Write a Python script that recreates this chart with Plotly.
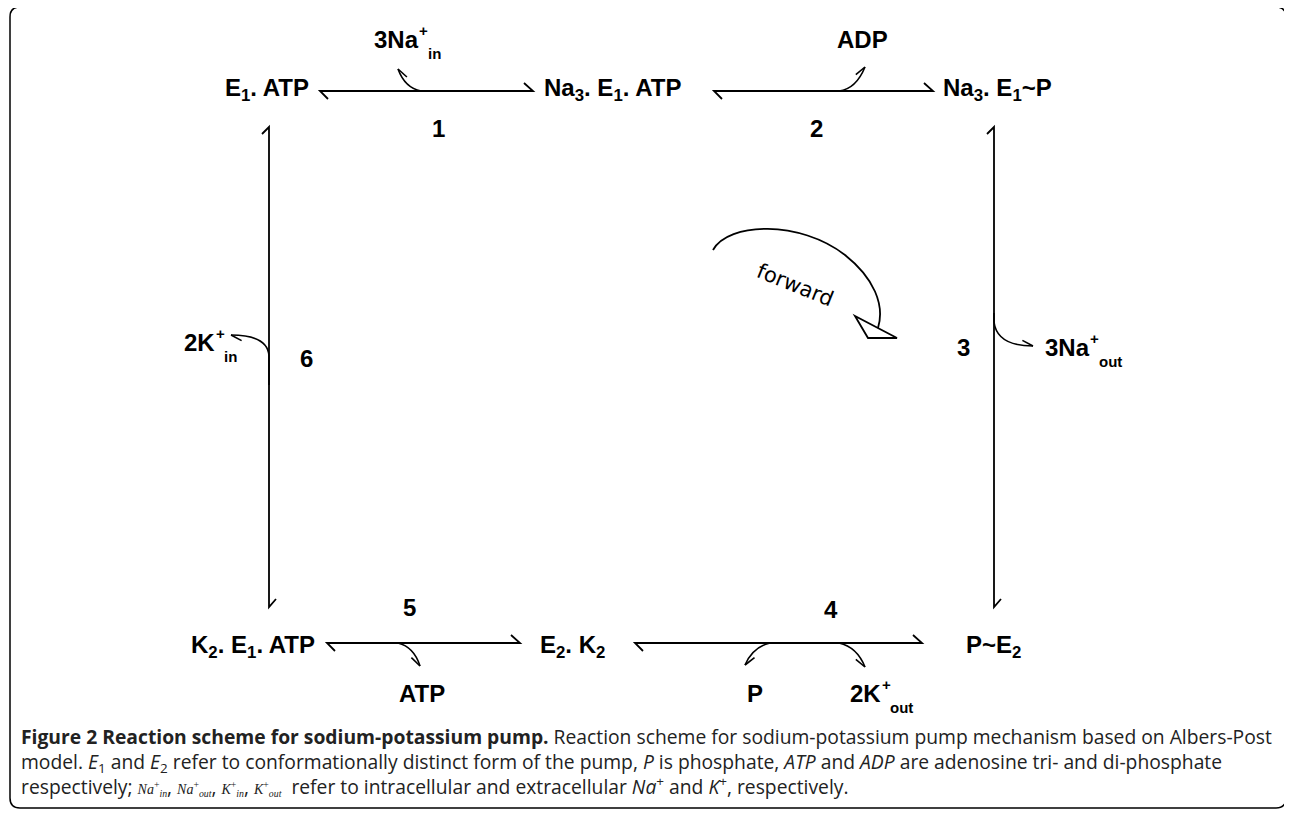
import math
import plotly.graph_objects as go

W, H = 1292, 814
PAGE_MARGIN = 8  # default body margin of the written page

# ---------------- content ----------------
species = ["E<sub>1</sub>. ATP", "Na<sub>3</sub>. E<sub>1</sub>. ATP", "Na<sub>3</sub>. E<sub>1</sub>~P",
           "P~E<sub>2</sub>", "E<sub>2</sub>. K<sub>2</sub>", "K<sub>2</sub>. E<sub>1</sub>. ATP"]
step_labels = ["1", "2", "3", "4", "5", "6"]
ligand_base = ["3Na", "ADP", "3Na", "P", "2K", "ATP", "2K"]
ligand_sup = ["+", "", "+", "", "+", "", "+"]
ligand_sub = ["in", "", "out", "", "out", "", "in"]
direction_label = "forward"

serif = "font-family:'Liberation Serif';font-size:14px"
def ion(sym, where):
    return (f"<span style=\"{serif}\"><i>{sym}</i><sup>+</sup><sub><i>{where}</i></sub></span>")

caption_lines = [
    "<b>Figure 2 Reaction scheme for sodium-potassium pump.</b> Reaction scheme for sodium-potassium pump mechanism based on Albers-Post",
    "model. <i>E</i><sub>1</sub> and <i>E</i><sub>2</sub> refer to conformationally distinct form of the pump, <i>P</i> is phosphate, "
    "<i>ATP</i> and <i>ADP</i> are adenosine tri- and di-phosphate",
    "respectively; " + ion("Na", "in") + ", " + ion("Na", "out") + ", " + ion("K", "in") + ", " + ion("K", "out")
    + "  refer to intracellular and extracellular <i>Na</i><sup>+</sup> and <i>K</i><sup>+</sup>, respectively.",
]

# ---------------- layout (pixel positions) ----------------
species_pos = [(267, 89), (612, 89), (997, 89), (993, 646), (572, 646), (253, 646)]
step_pos = [(438, 128), (816, 128), (963, 347), (831, 609), (409, 607), (306, 358)]
# (x, anchor, y) of the base text
ligand_pos = [(372, 'left', 39), (862, 'center', 39), (1043, 'left', 347),
              (755, 'center', 693), (848, 'left', 693), (422, 'center', 693), (182, 'left', 342)]

BIG = 24
SMALL = 15
# Arial-bold advance widths (em) for the characters used in ion labels
ADV = {'3': 0.556, '2': 0.556, 'N': 0.722, 'a': 0.556, 'K': 0.722, '+': 0.584}

fig = go.Figure()
shapes = []
BLACK = "black"

def add_path(p, w=1.8):
    shapes.append(dict(type="path", path=p, xref="x", yref="y",
                       line=dict(color=BLACK, width=w)))

# equilibrium harpoons
def h_harpoon(x0, x1, y):
    add_path(f"M {x0+8} {y+8} L {x0} {y} L {x1} {y} L {x1-9} {y-8}")

def v_harpoon(x, y0, y1):
    add_path(f"M {x-7} {y0+7} L {x} {y0} L {x} {y1} L {x+7} {y1-8}")

h_harpoon(320, 533, 91)
h_harpoon(714, 933, 91)
h_harpoon(327, 520, 643)
h_harpoon(635, 922, 643)
v_harpoon(269, 127, 607)
v_harpoon(994, 127, 607)

# side (ligand) arrows
def side_arrow(path, tip, ctrl, side):
    add_path(path, 1.6)
    dx, dy = ctrl[0] - tip[0], ctrl[1] - tip[1]
    n = math.hypot(dx, dy)
    dx, dy = dx / n, dy / n
    a = math.radians(28 * side)
    rx = dx * math.cos(a) - dy * math.sin(a)
    ry = dx * math.sin(a) + dy * math.cos(a)
    add_path(f"M {tip[0]} {tip[1]} L {tip[0]+12*rx:.1f} {tip[1]+12*ry:.1f}", 1.6)

side_arrow("M 437 91 L 421 91 Q 405 88 398 69", (398, 69), (405, 88), -1)
side_arrow("M 825 91 L 839 91 Q 856 89 865 67", (865, 67), (856, 89), 1)
side_arrow("M 994 313 L 994 322 Q 997 346 1033 346", (1033, 346), (997, 346), 1)
side_arrow("M 269 385 L 269 356 Q 268 335 231 335", (231, 335), (268, 335), 1)
side_arrow("M 385 643 L 398 643 Q 414 647 420 666", (420, 666), (414, 647), -1)
side_arrow("M 783 643 L 770 643 Q 753 647 745 665", (745, 665), (753, 647), 1)
side_arrow("M 825 643 L 839 643 Q 857 647 865 667", (865, 667), (857, 647), -1)

# forward arc with open triangle head
add_path("M 713 250 C 728 222, 800 220, 845 255 C 874 278, 885 305, 878 328", 1.8)
add_path("M 855 316 L 868 338 L 897 338 Z", 1.8)

# rounded frame
r = 10
x0, y0, x1, y1 = 10, 7, 1286, 808
add_path(f"M {x0+r} {y0} L {x1-r} {y0} Q {x1} {y0} {x1} {y0+r} L {x1} {y1-r} Q {x1} {y1} {x1-r} {y1} "
         f"L {x0+r} {y1} Q {x0} {y1} {x0} {y1-r} L {x0} {y0+r} Q {x0} {y0} {x0+r} {y0} Z", 1.5)

annotations = []
BOLD = dict(family="Liberation Sans, Arial, sans-serif", size=BIG, color=BLACK)
BOLD_S = dict(family="Liberation Sans, Arial, sans-serif", size=SMALL, color=BLACK)

def txt(t, x, y, font, xanchor="center", **kw):
    annotations.append(dict(text=t, x=x, y=y, xref="x", yref="y", showarrow=False,
                            xanchor=xanchor, yanchor="middle", font=font, **kw))

for t, (x, y) in zip(species, species_pos):
    txt(f"<b>{t}</b>", x, y, BOLD)
for t, (x, y) in zip(step_labels, step_pos):
    txt(f"<b>{t}</b>", x, y, BOLD)
for base, sup, sub, (x, anc, y) in zip(ligand_base, ligand_sup, ligand_sub, ligand_pos):
    txt(f"<b>{base}</b>", x, y, BOLD, xanchor=anc)
    if anc == 'left' and sup:
        end = x + sum(ADV.get(c, 0.6) for c in base) * BIG
        txt(f"<b>{sup}</b>", end + 1, y - 9, BOLD_S, xanchor="left")
        txt(f"<b>{sub}</b>", end + 1 + ADV['+'] * SMALL, y + 14, BOLD_S, xanchor="left")

txt(direction_label, 795, 285, dict(family="DejaVu Sans", size=21, color=BLACK), textangle=22)

annotations.append(dict(text="<br>".join(caption_lines), x=19, y=761, xref="x", yref="y",
                        showarrow=False, xanchor="left", yanchor="middle", align="left",
                        font=dict(family="Open Sans", size=19.3, color="#222222")))

fig.update_layout(
    width=W, height=H, margin=dict(l=0, r=0, t=0, b=0),
    paper_bgcolor="white", plot_bgcolor="white",
    xaxis=dict(range=[PAGE_MARGIN, W + PAGE_MARGIN], visible=False, fixedrange=True),
    yaxis=dict(range=[H + PAGE_MARGIN, PAGE_MARGIN], visible=False, fixedrange=True),
    shapes=shapes, annotations=annotations, showlegend=False,
)
fig.write_html("out.html")
